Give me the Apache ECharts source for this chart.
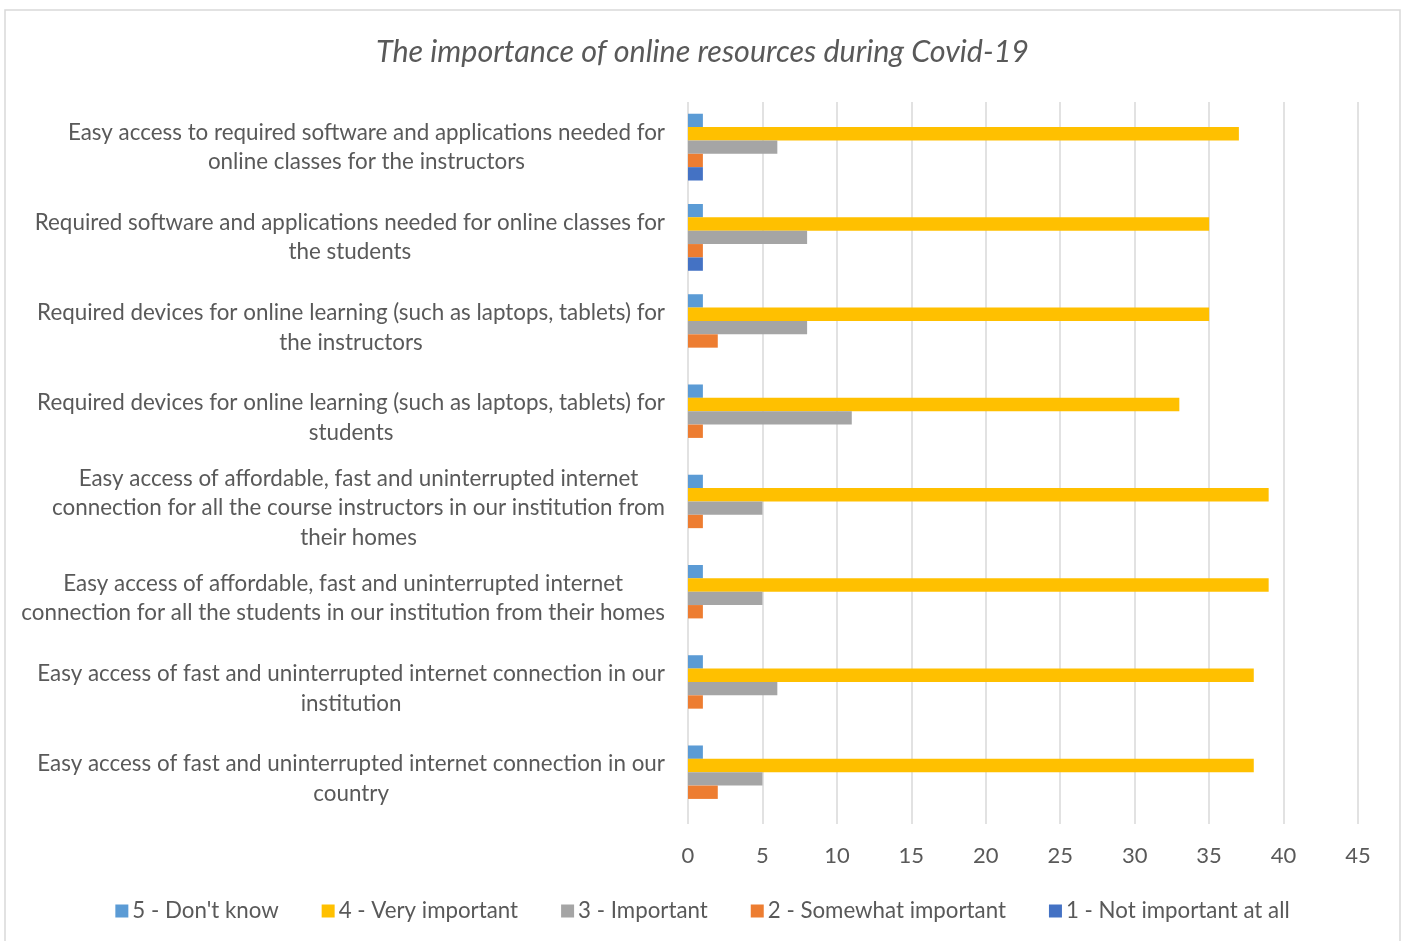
<!DOCTYPE html>
<html>
<head>
<meta charset="utf-8">
<script src="https://cdn.jsdelivr.net/npm/echarts@6/dist/echarts.min.js"></script>
<style>
html,body{margin:0;padding:0;background:#fff;}
#chart{width:1405px;height:941px;}
</style>
</head>
<body>
<div id="chart"></div>
<script>
const titleText = 'The importance of online resources during Covid-19';
const categories = [
  'Easy access to required software and applications needed for\nonline classes for the instructors',
  'Required software and applications needed for online classes for\nthe students',
  'Required devices for online learning (such as laptops, tablets) for\nthe instructors',
  'Required devices for online learning (such as laptops, tablets) for\nstudents',
  'Easy access of affordable, fast and uninterrupted internet\nconnection for all the course instructors in our institution from\ntheir homes',
  'Easy access of affordable, fast and uninterrupted internet\nconnection for all the students in our institution from their homes',
  'Easy access of fast and uninterrupted internet connection in our\ninstitution',
  'Easy access of fast and uninterrupted internet connection in our\ncountry'
];
const seriesNames = ['5 - Don\'t know', '4 - Very important', '3 - Important', '2 - Somewhat important', '1 - Not important at all'];
const dontKnow      = [1, 1, 1, 1, 1, 1, 1, 1];
const veryImportant = [37, 35, 35, 33, 39, 39, 38, 38];
const important     = [6, 8, 8, 11, 5, 5, 6, 5];
const somewhat      = [1, 1, 2, 1, 1, 1, 1, 2];
const notImportant  = [1, 1, 0, 0, 0, 0, 0, 0];
const xTicks = { min: 0, max: 45, interval: 5 };

const colors = ['#5B9BD5', '#FFC000', '#A5A5A5', '#ED7D31', '#4472C4'];
const values = [dontKnow, veryImportant, important, somewhat, notImportant];
const FONT = 'Lato';

const chart = echarts.init(document.getElementById('chart'));
chart.setOption({
  animation: false,
  backgroundColor: '#fff',
  color: colors,
  graphic: [{
    type: 'rect', silent: true, z: -1,
    shape: { x: 5, y: 10, width: 1395, height: 940 },
    style: { fill: 'none', stroke: '#d9d9d9', lineWidth: 1.5 }
  }],
  title: {
    text: titleText, left: 'center', top: 32,
    textStyle: { fontFamily: FONT, fontStyle: 'italic', fontWeight: 'normal', fontSize: 30.5, color: '#595959' }
  },
  legend: {
    bottom: 14, left: 'center',
    itemWidth: 13, itemHeight: 13, itemGap: 43,
    icon: 'rect',
    textStyle: { fontFamily: FONT, fontSize: 22.3, color: '#595959', padding: [0, 0, 0, -1] },
    data: seriesNames
  },
  grid: { left: 688, right: 47, top: 102, bottom: 117, containLabel: false },
  xAxis: {
    type: 'value', min: xTicks.min, max: xTicks.max, interval: xTicks.interval,
    axisLine: { show: false }, axisTick: { show: false },
    splitLine: { show: true, lineStyle: { color: '#d9d9d9', width: 1.5 } },
    axisLabel: { fontFamily: FONT, fontSize: 22, color: '#595959', margin: 21 }
  },
  yAxis: {
    type: 'category', inverse: true, data: categories,
    axisLine: { show: false }, axisTick: { show: false },
    axisLabel: {
      margin: 23,
      formatter: v => '{a|' + v + '}',
      rich: { a: { align: 'center', fontFamily: FONT, fontSize: 22.4, color: '#595959', lineHeight: 29.5 } }
    }
  },
  series: seriesNames.map((n, i) => ({
    name: n, type: 'bar', data: values[i],
    barGap: '0%', barCategoryGap: '26%',
    itemStyle: { color: colors[i] }
  }))
});
</script>
</body>
</html>
